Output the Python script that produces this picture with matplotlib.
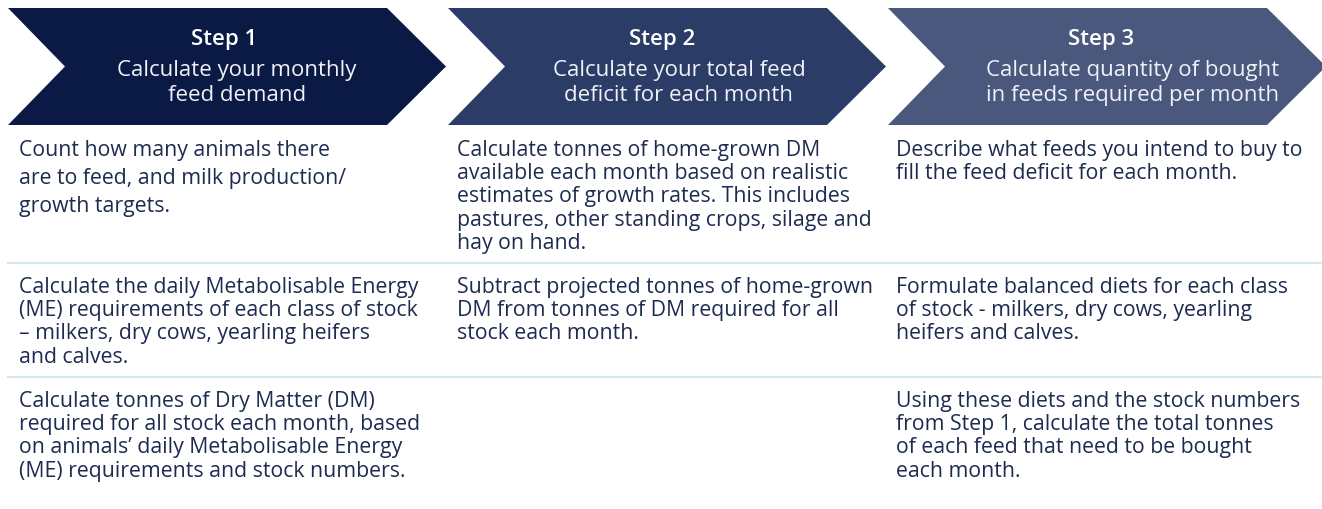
import matplotlib.pyplot as plt
from matplotlib.patches import Polygon

plt.rcParams['font.family'] = ['Open Sans', 'DejaVu Sans']

# Header content
step_labels = ["Step 1", "Step 2", "Step 3"]
step_titles = [
    "Calculate your monthly\nfeed demand",
    "Calculate your total feed\ndeficit for each month",
    "Calculate quantity of bought\nin feeds required per month",
]
step_colors = ["#0b1a45", "#2b3d66", "#4a587d"]

# Body content: one list per column, one entry per row ("" = empty cell)
col1 = [
    "Count how many animals there\nare to feed, and milk production/\ngrowth targets.",
    "Calculate the daily Metabolisable Energy\n(ME) requirements of each class of stock\n\u2013 milkers, dry cows, yearling heifers\nand calves.",
    "Calculate tonnes of Dry Matter (DM)\nrequired for all stock each month, based\non animals\u2019 daily Metabolisable Energy\n(ME) requirements and stock numbers.",
]
col2 = [
    "Calculate tonnes of home-grown DM\navailable each month based on realistic\nestimates of growth rates. This includes\npastures, other standing crops, silage and\nhay on hand.",
    "Subtract projected tonnes of home-grown\nDM from tonnes of DM required for all\nstock each month.",
    "",
]
col3 = [
    "Describe what feeds you intend to buy to\nfill the feed deficit for each month.",
    "Formulate balanced diets for each class\nof stock - milkers, dry cows, yearling\nheifers and calves.",
    "Using these diets and the stock numbers\nfrom Step 1, calculate the total tonnes\nof each feed that need to be bought\neach month.",
]
columns = [col1, col2, col3]

# Layout (pixel space, y down)
W, H = 1322, 510
chev_left = [8, 448, 888]
chev_body = 379
chev_point = 59
chev_top, chev_bot = 9, 126
label_cx = [224, 662, 1101]
title_cx = [237, 679, 1133]
text_x = [19, 457, 896]
row_top = [140, 277, 391]
sep_y = [264, 378]
body_color = "#1c2b4f"
fs = 15.3
fs_head = 16

fig = plt.figure(figsize=(W / 100, H / 100), dpi=100)
ax = fig.add_axes([0, 0, 1, 1])
ax.set_xlim(0, W)
ax.set_ylim(H, 0)
ax.axis('off')

mid = (chev_top + chev_bot) / 2
for i, (lab, title, c) in enumerate(zip(step_labels, step_titles, step_colors)):
    x0 = chev_left[i]
    pts = [(x0, chev_top), (x0 + chev_body, chev_top), (x0 + chev_body + chev_point, mid),
           (x0 + chev_body, chev_bot), (x0, chev_bot), (x0 + chev_point - 2, mid)]
    ax.add_patch(Polygon(pts, closed=True, facecolor=c, edgecolor='none'))
    ax.text(label_cx[i], 39, lab, color='white', fontsize=fs_head, fontweight='semibold',
            ha='center', va='center')
    ax.text(title_cx[i], 83, title, color='#eef1f7', fontsize=fs_head, ha='center',
            va='center', linespacing=1.2)

for y in sep_y:
    ax.plot([8, W], [y, y], color='#d3e8f0', lw=1.5)

for ci, col in enumerate(columns):
    for ri, txt in enumerate(col):
        if not txt:
            continue
        ls = 1.45 if (ci == 0 and ri == 0) else 1.14
        ax.text(text_x[ci], row_top[ri], txt, color=body_color, fontsize=fs,
                ha='left', va='top', linespacing=ls)

fig.savefig('out.png', dpi=100)
